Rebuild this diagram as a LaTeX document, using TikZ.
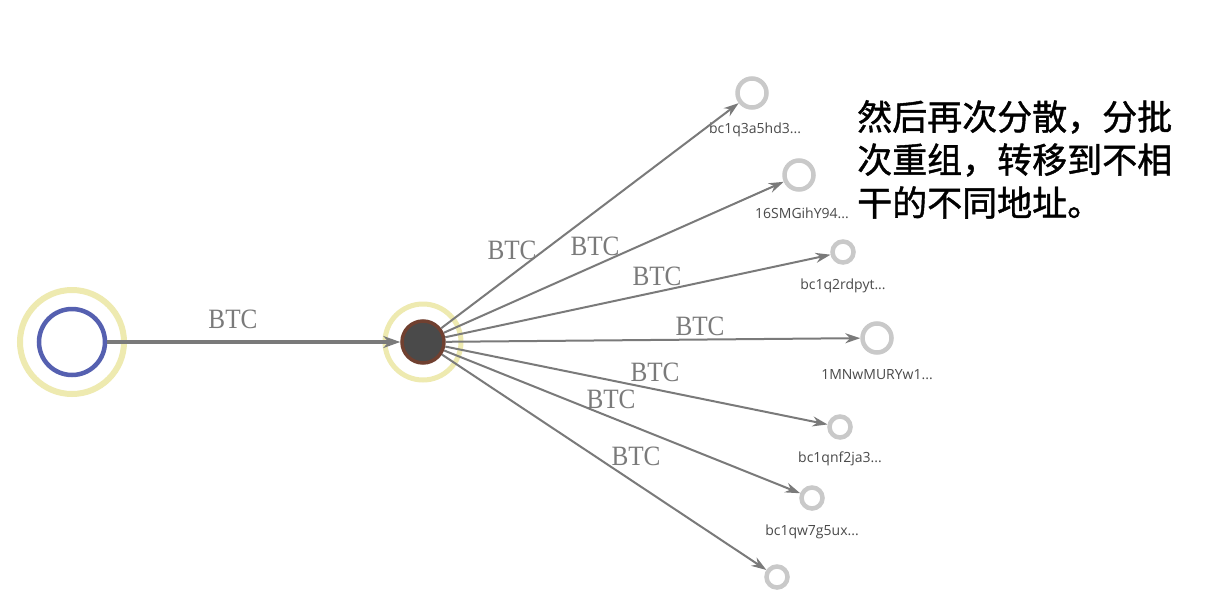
\documentclass[tikz,border=0pt]{standalone}
\usepackage{fontspec}
\setmainfont{Liberation Serif}
\newfontfamily\addrfont{Open Sans}
\newfontfamily\cjk[FakeBold=1.2]{Noto Sans CJK SC}
\usetikzlibrary{arrows.meta}
\definecolor{edgegray}{HTML}{7A7A7A}
\definecolor{ringgray}{HTML}{C9C9C9}
\definecolor{halo}{HTML}{EEEAB0}
\definecolor{srcblue}{HTML}{5560B0}
\definecolor{hubfill}{HTML}{4A4A4A}
\definecolor{hubrim}{HTML}{704030}
\definecolor{addrgray}{HTML}{4A4A4A}
\tikzset{
  target/.style={circle,draw=ringgray,line width=4.5pt,inner sep=0pt,minimum size=#1},
  edge/.style={draw=edgegray,line width=2pt,-{Stealth[length=15pt,width=10pt]}},
  btc/.style={text=edgegray,font=\fontsize{28}{28}\selectfont,inner sep=0pt,xscale=0.9},
  addr/.style={text=addrgray,font=\addrfont\fontsize{14}{14}\selectfont,inner sep=0pt}
}
\begin{document}
\begin{tikzpicture}[x=1pt,y=-1pt]
\path[use as bounding box,fill=white] (0,0) rectangle (1214,605);
% source node
\node[circle,draw=halo,line width=6pt,inner sep=0pt,minimum size=104pt] (srch) at (72,342) {};
\node[circle,draw=srcblue,line width=4.5pt,inner sep=0pt,minimum size=66pt] (src) at (72,342) {};
% hub
\node[circle,draw=halo,line width=5pt,inner sep=0pt,minimum size=76pt] (hubh) at (423,342) {};
\node[circle,fill=hubfill,draw=hubrim,line width=3.5pt,inner sep=0pt,minimum size=42pt] (hub) at (423,342) {};
% targets
\node[target=29pt] (t1) at (752,93) {};
\node[target=29pt] (t2) at (799,175) {};
\node[target=21pt] (t3) at (843,252) {};
\node[target=29pt] (t4) at (877,338) {};
\node[target=21pt] (t5) at (840,427) {};
\node[target=21pt] (t6) at (812,498) {};
\node[target=21pt] (t7) at (777,577) {};
% address labels
\node[addr] (l1) at (755,130) {bc1q3a5hd3...};
\node[addr] (l2) at (802,213) {16SMGihY94...};
\node[addr] (l3) at (843,286) {bc1q2rdpyt...};
\node[addr] (l4) at (877,375) {1MNwMURYw1...};
\node[addr] (l5) at (840,459) {bc1qnf2ja3...};
\node[addr] (l6) at (812,532) {bc1qw7g5ux...};
% edges
\draw[draw=edgegray,line width=4pt,-{Stealth[length=17pt,width=12pt]}] (src.east) -- (hub);
\draw[edge] (hub) -- (t1);
\draw[edge] (hub) -- (t2);
\draw[edge] (hub) -- (t3);
\draw[edge] (hub) -- (t4);
\draw[edge] (hub) -- (t5);
\draw[edge] (hub) -- (t6);
\draw[edge] (hub) -- (t7);
% BTC labels
\node[btc] (b0) at (233,319) {BTC};
\node[btc] (b1) at (512,250) {BTC};
\node[btc] (b2) at (595,246) {BTC};
\node[btc] (b3) at (657,276) {BTC};
\node[btc] (b4) at (700,326) {BTC};
\node[btc] (b5) at (655,372) {BTC};
\node[btc] (b6) at (611,399) {BTC};
\node[btc] (b7) at (636,456) {BTC};
% note
\node[anchor=north west,inner sep=0pt,align=left,font=\cjk\fontsize{35}{43}\selectfont] (note) at (857,100)
  {然后再次分散，分批\\次重组，转移到不相\\干的不同地址。};
\end{tikzpicture}
\end{document}
